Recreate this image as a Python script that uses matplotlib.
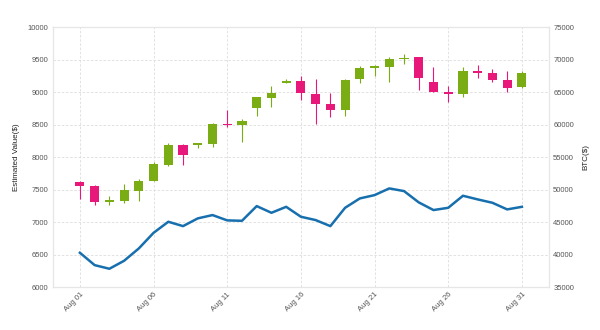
import numpy as np
import matplotlib
matplotlib.use('Agg')
import matplotlib.pyplot as plt
import matplotlib.dates as mdates

dates = np.arange(np.datetime64('2021-08-01'), np.datetime64('2021-09-01'))

opens = [7620, 7558, 7310, 7328, 7482, 7635, 7877, 8190, 8180, 8195,
         8510, 8492, 8749, 8912, 9143, 9169, 8974, 8815, 8723, 9195,
         9370, 9390, 9508, 9534, 9149, 9005, 8974, 9323, 9297, 9185, 9072]
closes = [7558, 7308, 7340, 7492, 7635, 7888, 8190, 8035, 8210, 8503,
          8495, 8558, 8918, 8980, 9174, 8985, 8820, 8723, 9185, 9365,
          9395, 9503, 9528, 9220, 9005, 8974, 9323, 9292, 9189, 9066, 9292]
highs = [7630, 7565, 7400, 7585, 7662, 7918, 8210, 8200, 8215, 8518,
         8723, 8580, 8928, 9092, 9200, 9246, 9195, 8980, 9195, 9400,
         9410, 9534, 9585, 9540, 9389, 9092, 9389, 9415, 9349, 9323, 9318]
lows = [7354, 7270, 7260, 7292, 7328, 7625, 7866, 7872, 8143, 8149,
        8466, 8236, 8631, 8765, 9134, 8877, 8503, 8620, 8630, 9134,
        9246, 9158, 9431, 9030, 8995, 8851, 8928, 9211, 9158, 9005, 9062]

btc = [40280, 38380, 37820, 39050, 40950, 43350, 45050, 44380, 45570, 46080,
       45260, 45200, 47460, 46430, 47350, 45820, 45310, 44380, 47200, 48640,
       49150, 50180, 49770, 48030, 46850, 47200, 49050, 48490, 47970, 46950, 47350]

GREEN = '#7aad14'
PINK = '#e8177a'
BLUE = '#176fae'
TXT = '#555555'


def main():
    plt.rcParams['font.family'] = ['Liberation Sans', 'DejaVu Sans']
    fig = plt.figure(figsize=(6, 3.3), dpi=100)
    ax = fig.add_axes([0.088, 0.13, 0.827, 0.788])

    x = mdates.date2num(dates.astype('datetime64[D]').astype(object))
    o = np.array(opens)
    c = np.array(closes)
    cols = [GREEN if cc >= oo else PINK for oo, cc in zip(o, c)]

    ax.vlines(x, lows, highs, colors=cols, linewidth=0.8, zorder=2)
    ax.bar(x, np.maximum(np.abs(c - o), 12), bottom=np.minimum(o, c),
           width=0.62, color=cols, zorder=3)

    ax.set_ylim(6000, 10000)
    ax.set_yticks(np.arange(6000, 10001, 500))
    ax.set_xlim(x[0] - 1.84, x[-1] + 1.84)
    ax.set_xticks(x[::5])
    ax.xaxis.set_major_formatter(mdates.DateFormatter('%b %d'))
    plt.setp(ax.get_xticklabels(), rotation=45, ha='right', rotation_mode='anchor')

    ax.grid(True, color='#dddddd', linestyle=(0, (3, 2)), linewidth=0.6, zorder=0)
    ax.set_axisbelow(True)
    ax.set_ylabel('Estimated Value($)', fontsize=5.8, color='#222222', labelpad=6)

    ax2 = ax.twinx()
    ax2.plot(x, btc, color=BLUE, linewidth=1.8, zorder=4)
    ax2.set_ylim(35000, 75000)
    ax2.set_yticks(np.arange(35000, 75001, 5000))
    ax2.set_ylabel('BTC($)', fontsize=5.8, color='#222222', labelpad=6)

    for a in (ax, ax2):
        a.tick_params(length=0, labelsize=5.5, labelcolor=TXT, pad=3)
        for s in a.spines.values():
            s.set_color('#e6e6e6')
            s.set_linewidth(0.8)

    fig.savefig('out.png', dpi=100, facecolor='white')


if __name__ == '__main__':
    main()
